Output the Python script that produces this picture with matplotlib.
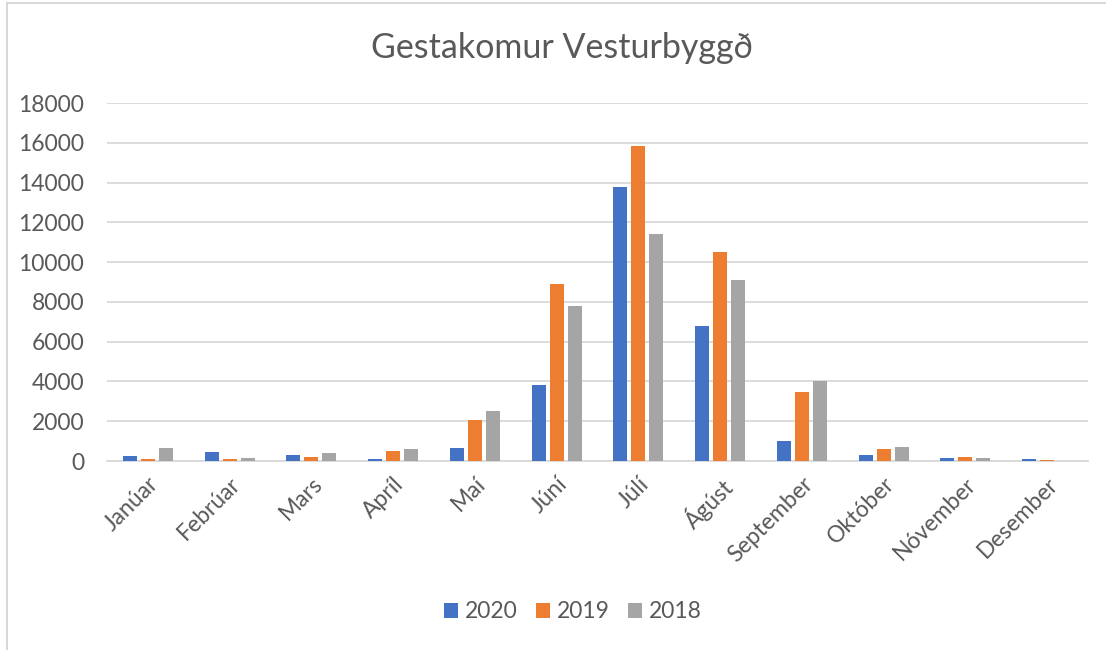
import numpy as np
import matplotlib
matplotlib.use('Agg')
import matplotlib.pyplot as plt
from matplotlib.patches import Rectangle

months = ['Janúar', 'Febrúar', 'Mars', 'Apríl', 'Maí', 'Júní', 'Júlí',
          'Ágúst', 'September', 'Október', 'Nóvember', 'Desember']
years = ['2020', '2019', '2018']
v2020 = [250, 450, 320, 80, 650, 3820, 13780, 6780, 1010, 300, 150, 100]
v2019 = [100, 100, 180, 520, 2080, 8900, 15840, 10500, 3470, 620, 200, 50]
v2018 = [640, 150, 400, 620, 2500, 7790, 11400, 9100, 4020, 690, 170, 20]
colors = ['#4472C4', '#ED7D31', '#A5A5A5']

plt.rcParams['font.family'] = ['Lato', 'DejaVu Sans']
text_color = '#595959'

fig = plt.figure(figsize=(11.06, 6.5), dpi=100)
ax = fig.add_axes([107 / 1106, 1 - 461 / 650, 981 / 1106, 358 / 650])

x = np.arange(len(months))
pitch = 0.22
width = 0.171
for i, (vals, lab) in enumerate(zip([v2020, v2019, v2018], years)):
    ax.bar(x + (i - 1) * pitch, vals, width, color=colors[i], label=lab, zorder=3)

ax.set_xlim(-0.5, len(months) - 0.5)
ax.set_ylim(0, 18000)
ax.set_yticks(np.arange(0, 18001, 2000))
ax.grid(axis='y', color='#D9D9D9', linewidth=1.3, zorder=0)
for s in ['top', 'right', 'left']:
    ax.spines[s].set_visible(False)
ax.spines['bottom'].set_color('#D9D9D9')
ax.spines['bottom'].set_linewidth(1.3)
ax.tick_params(axis='both', length=0, colors=text_color, labelsize=16.5)
ax.tick_params(axis='y', pad=16.5)
ax.set_xticks(x)
ax.set_xticklabels(months, rotation=45, ha='right', rotation_mode='anchor')
ax.tick_params(axis='x', pad=9)

fig.text(562 / 1106, 1 - 48 / 650, 'Gestakomur Vesturbyggð', ha='center', va='center',
         fontsize=24.5, color=text_color)

fig.legend(loc='center', bbox_to_anchor=(573 / 1106, 1 - 612 / 650), ncol=3,
           frameon=False, fontsize=16.5, labelcolor=text_color,
           handlelength=0.6, handleheight=0.6, handletextpad=0.3, columnspacing=0.8)

# chart frame (only the left and top edges show in the screenshot)
fig.add_artist(Rectangle((7 / 1106, -0.1), 1.2, 1 - 3 / 650 + 0.1, transform=fig.transFigure,
                         fill=False, edgecolor='#D9D9D9', linewidth=1.5))

fig.savefig('out.png', dpi=100)
